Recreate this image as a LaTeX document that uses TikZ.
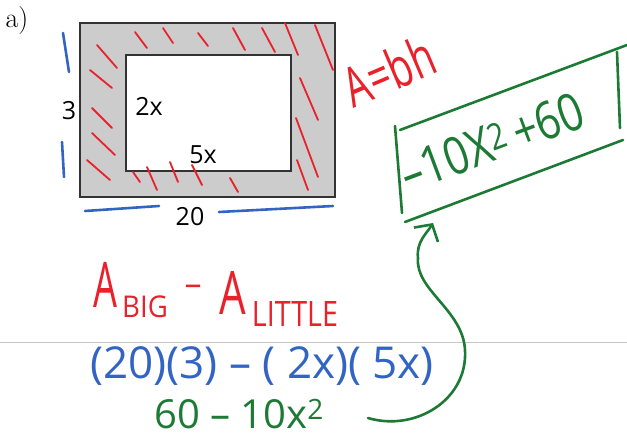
\documentclass[tikz,border=0pt]{standalone}
\usepackage{graphicx}
\usepackage{fontspec}
\setsansfont{Open Sans}
\usetikzlibrary{arrows.meta}

\definecolor{inkred}{RGB}{232,33,43}
\definecolor{inkblue}{RGB}{50,100,196}
\definecolor{inkgreen}{RGB}{28,122,52}
\definecolor{shade}{RGB}{204,204,204}
\definecolor{edge}{RGB}{51,51,51}

\newcommand{\handsize}[1]{\sffamily\fontsize{#1}{#1}\selectfont}

\tikzset{
	hatch/.style={inkred, line width=1.8pt, line cap=round},
	tick/.style={inkblue, line width=2.6pt, line cap=round},
	greenline/.style={inkgreen, line width=2.6pt, line cap=round},
	lbl/.style={font=\handsize{25}, inner sep=0pt},
	ink/.style={inner sep=0pt},
}

\begin{document}
\begin{tikzpicture}[x=1pt,y=-1pt]
		\useasboundingbox (0,0) rectangle (627,437);

		\draw[line width=1pt, black!22] (0,342) -- (627,342);

		\node[ink, font=\fontsize{28}{28}\selectfont] (part) at (17,21) {a)};

		\draw[fill=shade, draw=edge, line width=2pt] (80,23) rectangle (335,197);
		\draw[fill=white, draw=edge, line width=2pt] (126,55) rectangle (291,171);

		
		\draw[hatch] (135,32) -- (147,48) (163,28) -- (173,43) (198,33) -- (208,46)
			(233,28) -- (245,50) (262,28) -- (275,52) (285,23) -- (298,55) (315,25) -- (333,70);
		\draw[hatch] (97,45) -- (117,68) (90,70) -- (112,88) (92,108) -- (112,128)
			(92,133) -- (115,155) (87,160) -- (110,180);
		\draw[hatch] (300,78) -- (318,120) (296,118) -- (318,177) (297,160) -- (308,190);
		\draw[hatch] (133,172) -- (140,182) (147,167) -- (157,190) (170,162) -- (178,182)
			(192,165) -- (202,185) (230,178) -- (238,192);

		
		\node[lbl] (height) at (69,111) {3};
		\node[lbl] (inh) at (149,106) {2x};
		\node[lbl] (inw) at (203,155) {5x};
		\node[lbl] (width) at (190,217) {20};

		
		\draw[tick] (63,33) -- (69,72);
		\draw[tick] (62,142) -- (64,177);
		\draw[tick] (85,211) -- (159,206);
		\draw[tick] (219,212) -- (333,206);

		
		\node[ink, rotate=23, inkred, font=\handsize{55}] (area) at (389,71) {\scalebox{0.7}[1]{A=bh}};

		
		\node[ink, inkred, font=\handsize{63}] (abig) at (105,285) {\scalebox{0.6}[1]{A}};
		\node[ink, inkred, font=\handsize{30}] (big) at (145,307) {\scalebox{0.92}[1]{BIG}};
		\node[ink, inkred, font=\handsize{34}] (less) at (193,290) {–};
		\node[ink, inkred, font=\handsize{60}] (alittle) at (233,293) {\scalebox{0.7}[1]{A}};
		\node[ink, inkred, font=\handsize{35}] (little) at (295,314) {\scalebox{0.82}[1]{LITTLE}};

		
		\node[ink, inkblue, font=\handsize{44}] (product) at (262,366) {(20)(3) – ( 2x)( 5x)};
		\node[ink, inkgreen, font=\handsize{40}] (sixty) at (239,414) {60 – 10x\textsuperscript{2}};

		
		\node[ink, rotate=20.5, inkgreen, font=\handsize{52}] (answer) at (492,142) {\scalebox{0.82}[1]{–10X\textsuperscript{2}\,+60}};
		\draw[greenline] (395,126) -- (402,213);
		\draw[greenline] (400,130) -- (627,45);
		\draw[greenline] (405,222) -- (623,140);
		\draw[greenline] (617,52) -- (620,128);

		
		\coordinate (from) at (368,418);
		\coordinate (to) at (433,223);
		\draw[greenline, -{Straight Barb[length=12pt, width=28pt]}] (from)
			.. controls (415,432) and (468,400) .. (465,350)
			.. controls (463,310) and (415,290) .. (418,258)
			.. controls (416,242) and (427,233) .. (to);
\end{tikzpicture}
\end{document}
